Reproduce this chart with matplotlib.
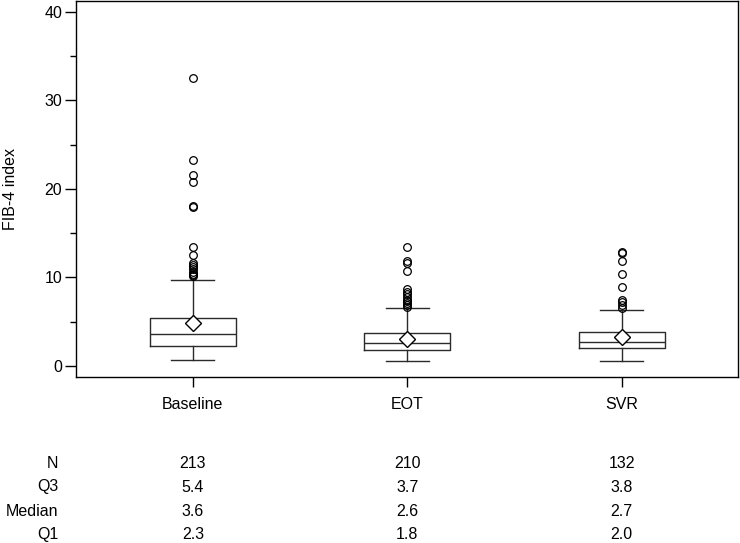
import numpy as np
import matplotlib
matplotlib.use("Agg")
import matplotlib.pyplot as plt
import matplotlib.transforms as mtransforms

plt.rcParams["font.family"] = ["Liberation Sans", "DejaVu Sans"]
plt.rcParams["font.size"] = 11.5

### DATA
groups = ["Baseline", "EOT", "SVR"]
n_vals = [213, 210, 132]
q1_vals = [2.3, 1.8, 2.0]
med_vals = [3.6, 2.6, 2.7]
q3_vals = [5.4, 3.7, 3.8]
whislo_vals = [0.65, 0.6, 0.6]
whishi_vals = [9.75, 6.5, 6.3]
mean_vals = [4.9, 3.1, 3.3]
outliers_baseline = [32.5, 23.2, 21.6, 20.8, 18.0, 18.1, 13.4, 12.5, 11.6,
                     11.4, 11.2, 10.9, 10.6, 10.4, 10.3, 10.2]
outliers_eot = [13.4, 11.8, 11.6, 10.7, 8.7, 8.4, 8.1, 7.8, 7.5, 7.3, 7.1,
                6.9, 6.7]
outliers_svr = [12.7, 12.9, 11.8, 10.4, 8.9, 7.5, 7.2, 6.9, 6.6]
row_names = ["N", "Q3", "Median", "Q1"]

fliers = [outliers_baseline, outliers_eot, outliers_svr]
stats = []
for i, g in enumerate(groups):
    stats.append({
        "label": g,
        "q1": q1_vals[i],
        "med": med_vals[i],
        "q3": q3_vals[i],
        "whislo": whislo_vals[i],
        "whishi": whishi_vals[i],
        "mean": mean_vals[i],
        "fliers": fliers[i],
    })

fig = plt.figure(figsize=(7.4, 5.43), dpi=100)
ax = fig.add_axes([76 / 740, 1 - 377 / 543, 662 / 740, 376 / 543])

line_col = "#2b2b2b"
positions = [1, 2, 3]
ax.bxp(
    stats,
    positions=positions,
    widths=0.4,
    capwidths=0.2,
    showmeans=True,
    boxprops=dict(color=line_col, linewidth=1.0),
    medianprops=dict(color=line_col, linewidth=1.0),
    whiskerprops=dict(color=line_col, linewidth=1.0),
    capprops=dict(color=line_col, linewidth=1.0),
    meanprops=dict(marker="D", markerfacecolor="white", markeredgecolor="black",
                   markersize=8.5, markeredgewidth=1.0),
    flierprops=dict(marker="o", markerfacecolor="none", markeredgecolor="black",
                    markersize=5.5, markeredgewidth=0.9),
)

ax.set_xlim(0.455, 3.542)
ax.set_ylim(-1.24, 41.2)
ax.set_yticks([0, 10, 20, 30, 40])
ax.set_yticks([5, 15, 25, 35], minor=True)
ax.set_xticks(positions)
ax.set_xticklabels(groups)
ax.tick_params(axis="y", which="major", length=8, width=1.0, pad=2)
ax.tick_params(axis="y", which="minor", length=4.3, width=1.0)
ax.tick_params(axis="x", which="major", length=7, width=1.0, pad=7.5)
for sp in ax.spines.values():
    sp.set_linewidth(1.0)
    sp.set_color("black")

fig.text(10.5 / 740, 1 - 188.5 / 543, "FIB-4 index", rotation=90,
         ha="center", va="center")

# summary table under the plot
table_rows = [n_vals, q3_vals, med_vals, q1_vals]
row_baselines = [467.5, 491.5, 515.5, 539.2]
trans = mtransforms.blended_transform_factory(ax.transData, fig.transFigure)
for name, vals, yb in zip(row_names, table_rows, row_baselines):
    yf = 1 - yb / 543
    fig.text(58 / 740, yf, name, ha="right", va="baseline")
    for x, v in zip(positions, vals):
        txt = str(v) if isinstance(v, int) else f"{v:.1f}"
        ax.text(x, yf, txt, transform=trans, ha="center", va="baseline",
                clip_on=False)

fig.savefig("out.png", dpi=100)
